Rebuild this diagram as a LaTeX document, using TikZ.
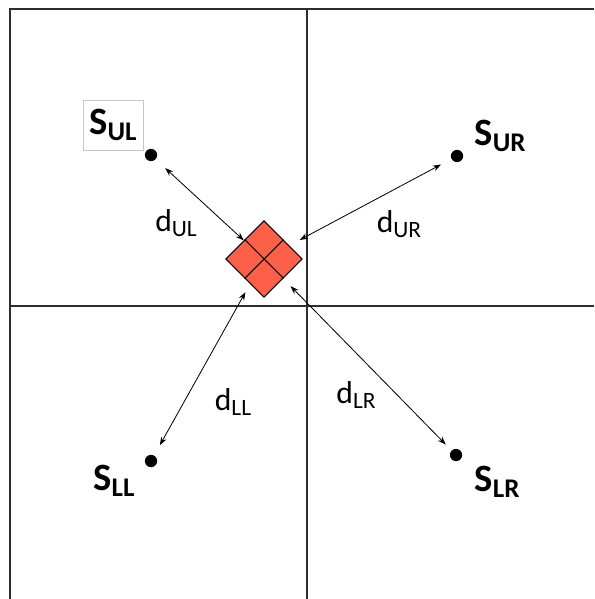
\documentclass[tikz,border=0pt]{standalone}
\usepackage{fontspec}
\setmainfont{Carlito}
\definecolor{cellred}{RGB}{252, 96, 72}
\definecolor{gridgray}{RGB}{45, 45, 45}
\usetikzlibrary{arrows.meta, positioning}
\newcommand{\sublab}[3]{#1\raisebox{-0.35ex}{\fontsize{#3}{#3}\selectfont #2}}

\begin{document}
\begin{tikzpicture}[x=0.03cm, y=-0.03cm,
    site/.style={circle, fill=black, inner sep=0pt, minimum size=10.5pt},
    slabel/.style={font=\fontsize{33}{35}\selectfont\bfseries, inner sep=1pt},
    dlabel/.style={font=\fontsize{27}{29}\selectfont, inner sep=1pt},
    dist/.style={{Stealth[length=7pt, width=5pt]}-{Stealth[length=7pt, width=5pt]}, line width=0.7pt}]
  \useasboundingbox (0,0) rectangle (594,599);
  % quadrants
  \draw[gridgray, line width=1.4pt] (594,9) -- (10,9) -- (10,599);
  \draw[gridgray, line width=1.4pt] (307,9) -- (307,599);
  \draw[gridgray, line width=1.4pt] (10,306) -- (594,306);

  % target cell
  \node[draw, fill=cellred, line width=0.9pt, rotate=45, minimum size=46pt,
        inner sep=0pt] (cell) at (264,259) {};
  \draw[line width=0.9pt] (cell.north) -- (cell.south);
  \draw[line width=0.9pt] (cell.east) -- (cell.west);

  % sources
  \node[site] (sUL) at (151,155) {};
  \node[site] (sUR) at (457,156) {};
  \node[site] (sLL) at (151,461) {};
  \node[site] (sLR) at (456,455) {};

  \node[slabel, draw=gray!45, line width=0.5pt, minimum width=51pt, minimum height=43pt]
    (lUL) at (113,125) {\sublab{S}{UL}{23}};
  \node[slabel] (lUR) at (500,136) {\sublab{S}{UR}{23}};
  \node[slabel] (lLL) at (114,481) {\sublab{S}{LL}{23}};
  \node[slabel] (lLR) at (497,482) {\sublab{S}{LR}{23}};

  % distances
  \draw[dist, shorten <=11pt] (sUL) -- (cell);
  \draw[dist, shorten <=10pt, shorten >=10pt] (sUR) -- (cell);
  \draw[dist, shorten <=10pt, shorten >=8pt] (sLL) -- (cell);
  \draw[dist, shorten <=7pt, shorten >=9pt] (sLR) -- (cell);

  \node[dlabel] (dUL) at (176,223) {\sublab{d}{UL}{20}};
  \node[dlabel] (dUR) at (399,224) {\sublab{d}{UR}{20}};
  \node[dlabel] (dLL) at (233,402) {\sublab{d}{LL}{20}};
  \node[dlabel] (dLR) at (356,395) {\sublab{d}{LR}{20}};
\end{tikzpicture}
\end{document}
